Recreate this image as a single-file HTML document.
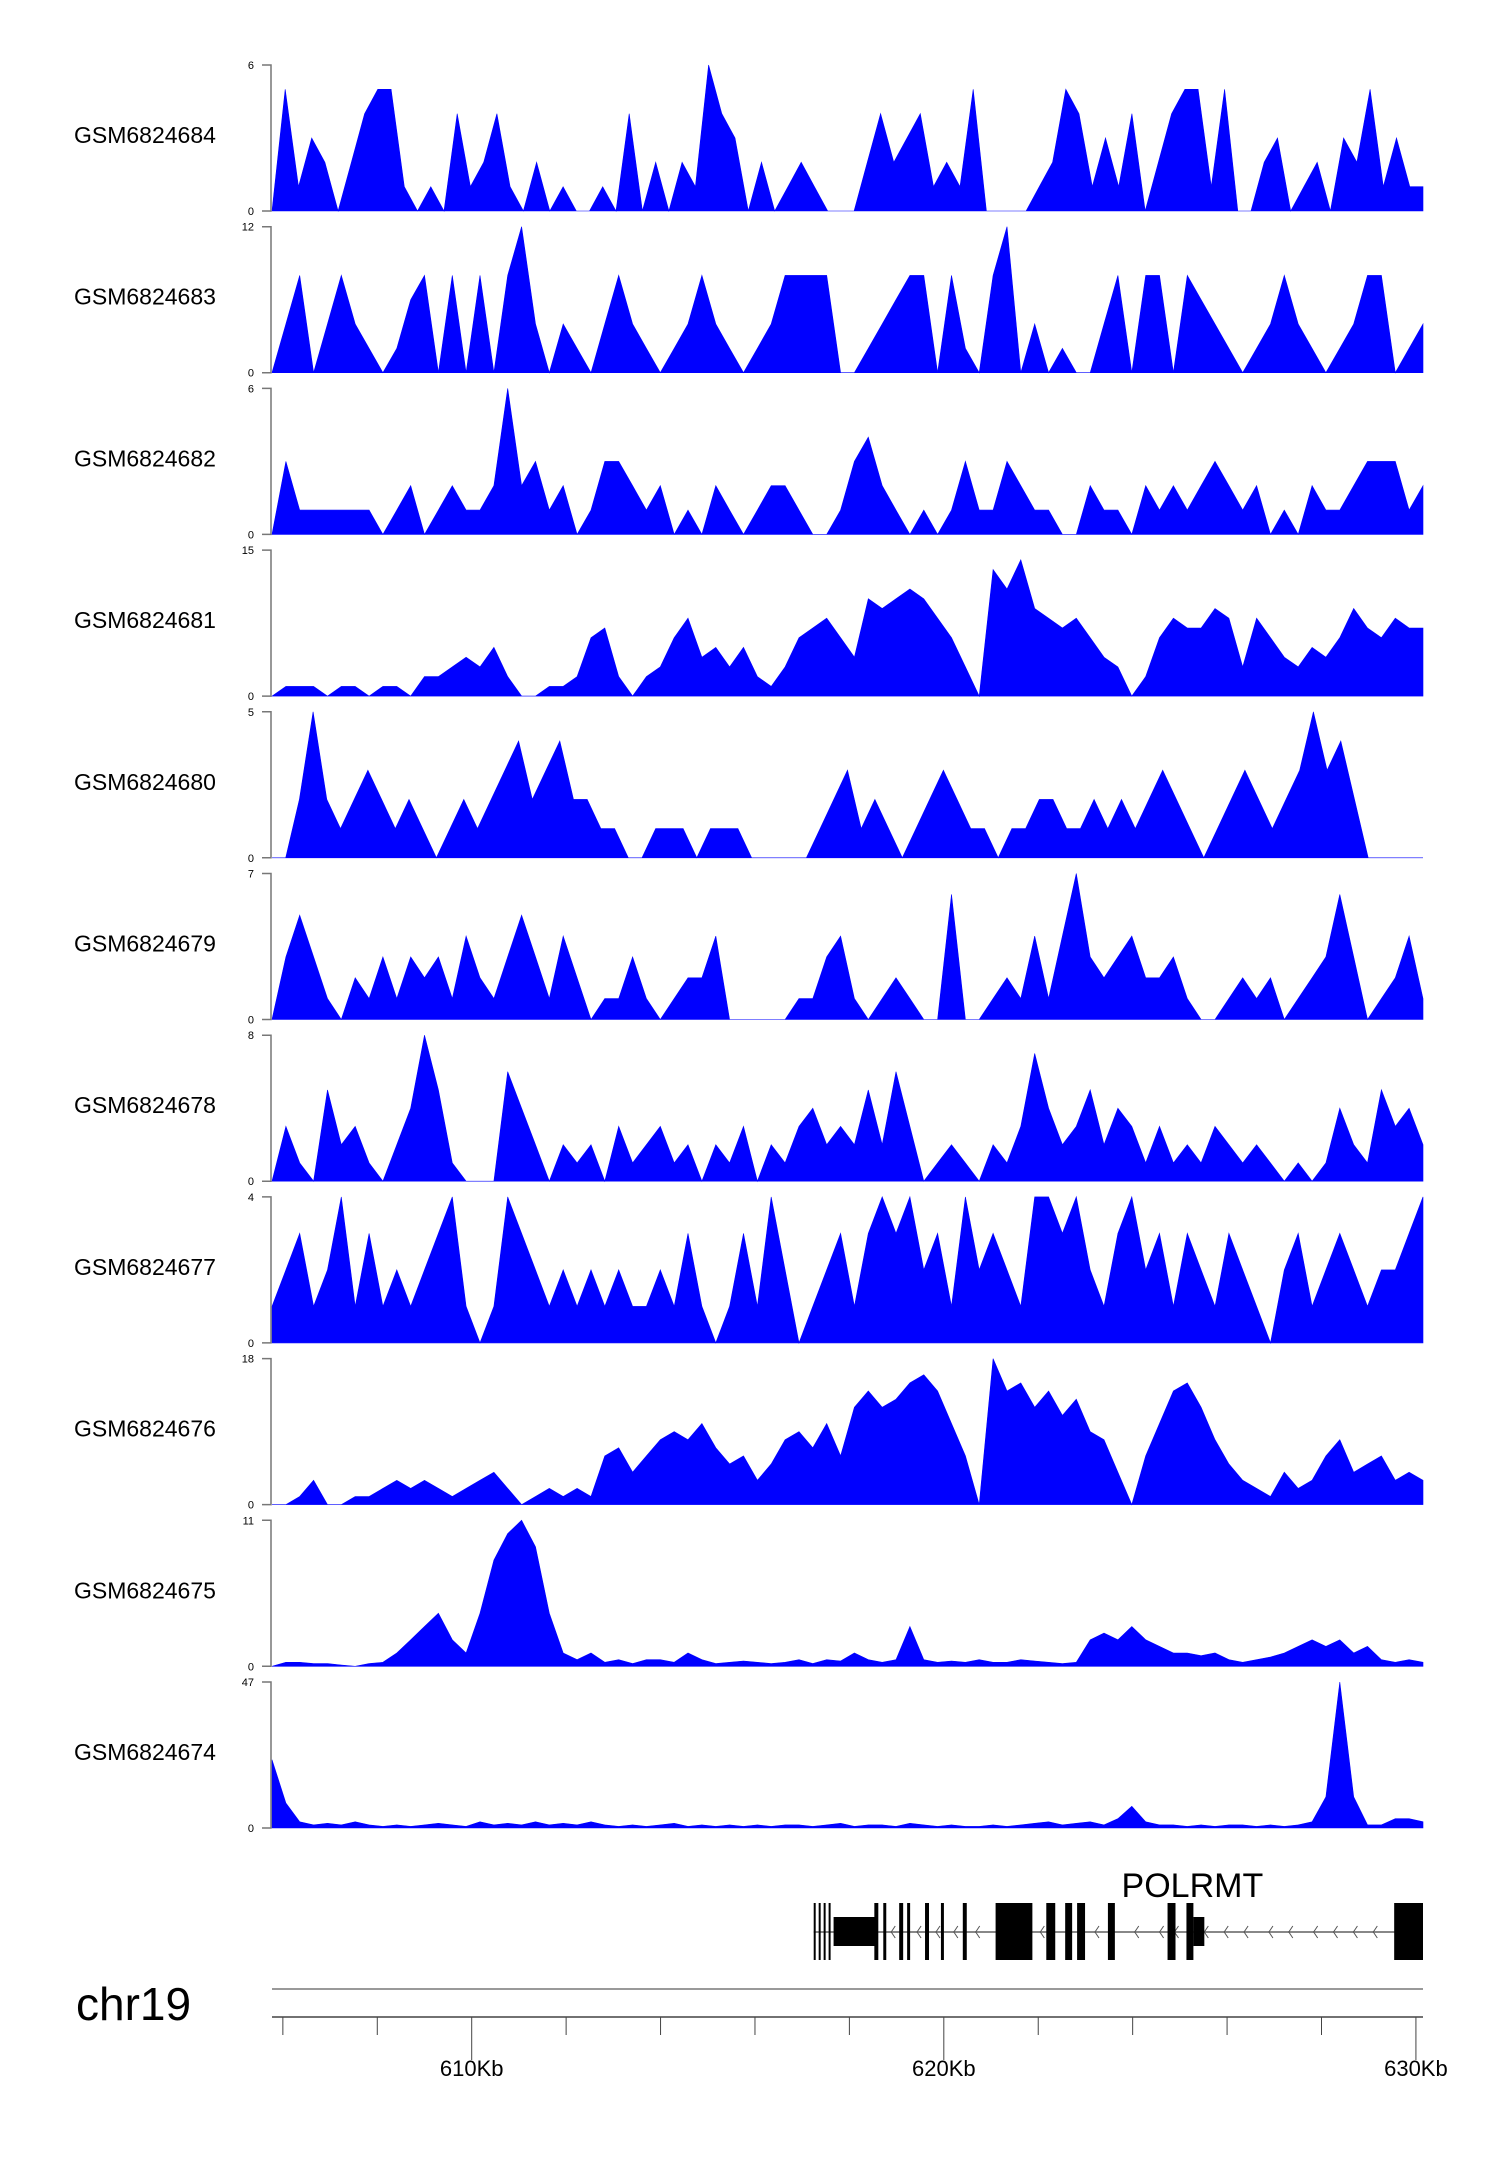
<!DOCTYPE html>
<html><head><meta charset="utf-8">
<style>
html,body{margin:0;padding:0;background:#fff;}
svg{display:block;font-family:"Liberation Sans",sans-serif;}
</style></head>
<body>
<svg id="chart" width="1500" height="2170" viewBox="0 0 1500 2170" xmlns="http://www.w3.org/2000/svg">
<g id="tracks"></g>
<g id="gene"></g>
<g id="axis"></g>
</svg>
<script>
const trackNames = ["GSM6824684","GSM6824683","GSM6824682","GSM6824681","GSM6824680","GSM6824679","GSM6824678","GSM6824677","GSM6824676","GSM6824675","GSM6824674"];
const trackMax = [6,12,6,15,5,7,8,4,18,11,47];
const regionStartKb = 605.77;
const regionEndKb = 630.15;
const axisTicksKb = [606,608,610,612,614,616,618,620,622,624,626,628,630];
const axisLabelsKb = [610,620,630];
const t1 = [0,5,1,3,2,0,2,4,5,5,1,0,1,0,4,1,2,4,1,0,2,0,1,0,0,1,0,4,0,2,0,2,1,6,4,3,0,2,0,1,2,1,0,0,0,2,4,2,3,4,1,2,1,5,0,0,0,0,1,2,5,4,1,3,1,4,0,2,4,5,5,1,5,0,0,2,3,0,1,2,0,3,2,5,1,3,1,1];
const t2 = [0,4,8,0,4,8,4,2,0,2,6,8,0,8,0,8,0,8,12,4,0,4,2,0,4,8,4,2,0,2,4,8,4,2,0,2,4,8,8,8,8,0,0,2,4,6,8,8,0,8,2,0,8,12,0,4,0,2,0,0,4,8,0,8,8,0,8,6,4,2,0,2,4,8,4,2,0,2,4,8,8,0,2,4];
const t3 = [0,3,1,1,1,1,1,1,0,1,2,0,1,2,1,1,2,6,2,3,1,2,0,1,3,3,2,1,2,0,1,0,2,1,0,1,2,2,1,0,0,1,3,4,2,1,0,1,0,1,3,1,1,3,2,1,1,0,0,2,1,1,0,2,1,2,1,2,3,2,1,2,0,1,0,2,1,1,2,3,3,3,1,2];
const t4 = [0,1,1,1,0,1,1,0,1,1,0, 2,2,3,4,3,5,2, 0,0,1,1,2,6,7,2, 0,2,3,6,8,4,5,3,5,2, 1,3,6,7,8,6,4, 10,9,10,11,10,8,6,3, 0, 13,11,14,9,8,7,8,6,4,3, 0, 2,6,8,7,7,9,8,3,8,6,4,3,5,4,6,9,7,6,8,7,7];
const t5 = [0,0,2,5,2,1,2,3,2,1,2,1,0,1,2,1,2,3,4,2,3,4,2,2,1,1,0,0,1,1,1,0,1,1,1,0,0,0,0,0,1,2,3,1,2,1,0,1,2,3,2,1,1,0,1,1,2,2,1,1,2,1,2,1,2,3,2,1,0,1,2,3,2,1,2,3,5,3,4,2,0,0,0,0,0];
const t6 = [0,3,5,3,1,0,2,1,3,1,3, 2,3,1,4,2,1,3,5,3,1, 4,2,0,1,1,3,1,0,1,2, 2,4,0,0,0, 0,0,1,1,3, 4,1,0,1,2,1,0,0, 6, 0,0,1,2,1,4,1,4, 7, 3,2,3,4,2,2,3,1,0,0, 1,2,1,2,0,1,2,3,6,3,0,1,2,4,1];
const t7 = [0,3,1,0,5,2,3,1,0,2,4, 8,5,1,0,0,0, 6,4,2,0,2,1,2,0,3, 1,2,3,1,2,0,2,1,3,0, 2,1,3,4,2,3,2,5,2, 6, 3,0,1,2,1,0,2,1,3, 7, 4,2,3,5,2,4,3,1,3,1,2,1,3,2,1,2,1,0,1,0,1,4,2,1,5,3,4,2];
const t8 = [1,2,3,1,2,4,1,3,1,2,1,2,3,4,1,0,1,4,3,2,1,2,1,2,1,2,1,1,2,1,3,1,0,1,3,1,4,2,0,1,2,3,1,3,4,3,4,2,3,1,4,2,3,2,1,4,4,3,4,2,1,3,4,2,3,1,3,2,1,3,2,1,0,2,3,1,2,3,2,1,2,2,3,4];
const t9 = [0,0,1,3,0,0,1,1,2,3,2, 3,2,1,2,3,4,2,0,1,2,1,2,1, 6,7,4,6,8,9,8,10,7,5,6,3, 5,8,9,7,10,6,12, 14,12,13,15,16,14,10,6, 0, 18,14,15,12,14,11,13,9,8,4, 0, 6,10,14,15,12,8,5, 3,2,1,4,2,3,6,8,4,5,6,3,4,3];
const t10 = [0,0.3,0.3,0.2,0.2,0.1,0,0.2,0.3, 1,2,3,4,2, 1,4,8,10,11,9,4, 1,0.5,1,0.3,0.5,0.2,0.5,0.5,0.3,1,0.5,0.2,0.3,0.4,0.3,0.2,0.3,0.5,0.2,0.5,0.4,1,0.5,0.3,0.5, 3, 0.5,0.3,0.4,0.3,0.5,0.3,0.3,0.5,0.4,0.3,0.2,0.3, 2,2.5,2,3,2,1.5,1, 1,0.8,1,0.5,0.3,0.5,0.7,1,1.5,2,1.5,2,1,1.5,0.5,0.3,0.5,0.3];
const t11 = [22,8,2,1,1.5,1,2,1,0.5,1,0.5,1,1.5,1,0.5,2,1,1.5,1,2,1,1.5,1,2,1,0.5,1,0.5,1,1.5,0.5,1,0.5,1,0.5,1,0.5,1,1,0.5,1,1.5,0.5,1,1,0.5,1.5,1,0.5,1,0.5,0.5,1,0.5,1,1.5,2,1,1.5,2,1,3,7,2,1,1,0.5,1,0.5,1,1,0.5,1,0.5,1,2,10,47,10,1,1,3,3,2];
const trackValues = [t1,t2,t3,t4,t5,t6,t7,t8,t9,t10,t11];
const geneName = "POLRMT";

const NS = "http://www.w3.org/2000/svg";
const X0 = 272, X1 = 1423;
const pxPerKb = (X1 - X0) / (regionEndKb - regionStartKb);
function xKb(kb){ return X0 + (kb - regionStartKb) * pxPerKb; }
const gs = (X1 - X0) / 1158;
function gx(x){ return X0 + (x - X0) * gs; }
const TOP0 = 65, PITCH = 161.7, H = 146;
function mk(tag, attrs, parent){ const e = document.createElementNS(NS, tag); for (const k in attrs) e.setAttribute(k, attrs[k]); parent.appendChild(e); return e; }

const tg = document.getElementById('tracks');
trackValues.forEach((vals, ti) => {
  const top = TOP0 + PITCH * ti, base = top + H;
  const g = mk('g', {}, tg);
  
  
  const yv = v => base - (v / trackMax[ti]) * H;
  const n = vals.length;
  let d = 'M' + X0 + ' ' + base;
  vals.forEach((v, i) => { const x = X0 + (X1 - X0) * i / (n - 1); d += ' L' + x.toFixed(1) + ' ' + yv(v).toFixed(1); });
  d += ' L' + X1 + ' ' + base + ' Z';
  const p = mk('path', {d: d, fill: '#0000ff', stroke: '#0000ff', 'stroke-width': '0.6'}, g);
  
  
  const ax = mk('path', {d: `M262 ${top} H271 V${base} H262`, fill: 'none', stroke: '#777', 'stroke-width': '1.5'}, g);
  
  
  const tmax = mk('text', {x: 254, y: top + 4, 'font-size': 11, 'text-anchor': 'end'}, g);
  tmax.textContent = trackMax[ti];
  
  
  const tz = mk('text', {x: 254, y: base + 4, 'font-size': 11, 'text-anchor': 'end'}, g);
  tz.textContent = '0';
  
  
  const nm = mk('text', {x: 74, y: top + H / 2 + 5, 'font-size': 23}, g);
  nm.textContent = trackNames[ti];
  
  
});

// gene model
const gg = document.getElementById('gene');
const intron = mk('line', {x1: gx(817), x2: X1, y1: 1932, y2: 1932, stroke: '#888', 'stroke-width': 2}, gg);


[895,921,940,958,980,1045,1100,1140,1165,1180,1210,1230,1250,1275,1295,1320,1340,1360,1380].forEach(x => {
  const xx = gx(x);
  const c = mk('path', {d: `M${xx+4} 1926 L${xx} 1932 L${xx+4} 1938`, fill: 'none', stroke: '#555', 'stroke-width': 1}, gg);
  
  
});
const exonsPx = [[817,2,0],[822,2,0],[827,2,0],[832,2,0],[837,43,1],[878,4,0],[887,3,0],[903,4,0],[911,3,0],[929,4,0],[945,3,0],[967,4,0],[1000,37,0],[1051,9,0],[1070,7,0],[1082,8,0],[1113,7,0],[1173,8,0],[1192,7,0],[1199,11,1],[1401,29,0]];
exonsPx.forEach(e => {
  const y = e[2] ? 1917 : 1903, h = e[2] ? 29 : 57;
  const r = mk('rect', {x: gx(e[0]), y: y, width: e[1] * gs, height: h, fill: '#000'}, gg);
  
  
});
const gn = mk('text', {x: gx(1198), y: 1897, 'font-size': 34, 'text-anchor': 'middle'}, gg);
gn.textContent = geneName;



// axis
const ag = document.getElementById('axis');
const chr = mk('text', {x: 76, y: 2020, 'font-size': 46}, ag);
chr.textContent = 'chr19';


const cl = mk('line', {x1: X0, x2: X1, y1: 1989, y2: 1989, stroke: '#999', 'stroke-width': 2}, ag);


const al = mk('line', {x1: X0, x2: X1, y1: 2017, y2: 2017, stroke: '#444', 'stroke-width': 1.5}, ag);


axisTicksKb.forEach(kb => {
  const major = axisLabelsKb.includes(kb);
  const t = mk('line', {x1: xKb(kb), x2: xKb(kb), y1: 2017, y2: major ? 2060 : 2035, stroke: '#444', 'stroke-width': 1}, ag);
  
  
});
axisLabelsKb.forEach(kb => {
  const t = mk('text', {x: xKb(kb), y: 2076, 'font-size': 22, 'text-anchor': 'middle'}, ag);
  t.textContent = kb + 'Kb';
  
  
});
</script>
</body></html>
